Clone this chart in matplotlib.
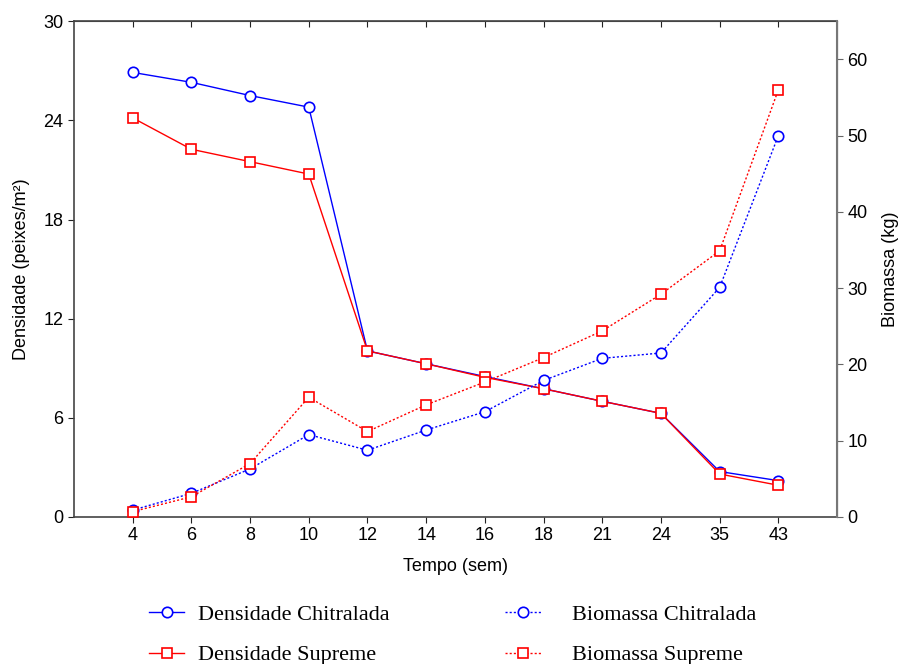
import matplotlib.pyplot as plt
import numpy as np

semanas = ['4', '6', '8', '10', '12', '14', '16', '18', '21', '24', '35', '43']
dens_chitralada = [26.9, 26.3, 25.5, 24.8, 10.05, 9.27, 8.5, 7.76, 7.0, 6.27, 2.75, 2.2]
dens_supreme = [24.15, 22.25, 21.5, 20.75, 10.05, 9.27, 8.45, 7.76, 7.0, 6.27, 2.6, 1.92]
bio_chitralada = [0.9, 3.1, 6.3, 10.8, 8.75, 11.4, 13.8, 17.9, 20.8, 21.5, 30.1, 50.0]
bio_supreme = [0.7, 2.65, 7.0, 15.7, 11.2, 14.7, 17.7, 20.9, 24.4, 29.2, 34.9, 56.0]

sans = ['Liberation Sans', 'DejaVu Sans']
serif = ['Liberation Serif', 'DejaVu Serif']
plt.rcParams['font.family'] = sans

blue = '#0000ff'
red = '#ff0000'
x = np.arange(len(semanas))

fig = plt.figure(figsize=(9.02, 6.64), dpi=100)
ax = fig.add_axes([0.082, 0.2214, 0.846, 0.7467])
ax2 = ax.twinx()

l1, = ax.plot(x, dens_chitralada, color=blue, lw=1, marker='o', ms=7.5,
              mfc='white', mec=blue, mew=1.2, label='Densidade Chitralada')
l2, = ax.plot(x, dens_supreme, color=red, lw=1, marker='s', ms=7,
              mfc='white', mec=red, mew=1.2, label='Densidade Supreme')
l3, = ax2.plot(x, bio_chitralada, color=blue, lw=1, ls=(0, (1.5, 1.5)), marker='o', ms=7.5,
               mfc='white', mec=blue, mew=1.2, label='Biomassa Chitralada')
l4, = ax2.plot(x, bio_supreme, color=red, lw=1, ls=(0, (1.5, 1.5)), marker='s', ms=7,
               mfc='white', mec=red, mew=1.2, label='Biomassa Supreme')

ax.set_xlim(-1, 12)
ax.set_xticks(x)
ax.set_xticklabels(semanas)
ax.set_ylim(0, 30)
ax.set_yticks(np.arange(0, 31, 6))
ax2.set_ylim(0, 65)
ax2.set_yticks(np.arange(0, 61, 10))

ax.tick_params(axis='both', direction='out', length=4, labelsize=13, colors='#222222', labelcolor='black')
ax2.tick_params(axis='y', direction='out', length=4, labelsize=13, colors='#666666', labelcolor='black')
top = ax.secondary_xaxis('top')
top.set_xticks(x)
top.tick_params(direction='in', length=4, labeltop=False, colors='#222222')
top.spines['top'].set_color('#444444')

for sp in ['left', 'bottom', 'top']:
    ax.spines[sp].set_color('#444444')
    ax.spines[sp].set_linewidth(1.2)
ax2.spines['right'].set_color('#777777')
ax2.spines['right'].set_linewidth(1.5)
for sp in ['left', 'bottom', 'top']:
    ax2.spines[sp].set_visible(False)

ax.set_xlabel('Tempo (sem)', fontsize=13, labelpad=10)
ax.set_ylabel('Densidade (peixes/m²)', fontsize=13, labelpad=10)
ax2.set_ylabel('Biomassa (kg)', fontsize=13, labelpad=10)

# two legend columns placed separately (the gaps differ in the original)
leg_kw = dict(loc='center left', frameon=False, prop={'family': serif, 'size': 16},
              handlelength=1.6, borderpad=0, borderaxespad=0, labelspacing=0.9)
fig.legend(handles=[l1, l2], bbox_to_anchor=(0.165, 0.044), handletextpad=0.6, **leg_kw)
fig.legend(handles=[l3, l4], bbox_to_anchor=(0.560, 0.044), handletextpad=1.4, **leg_kw)

fig.savefig('out.png', dpi=100)
